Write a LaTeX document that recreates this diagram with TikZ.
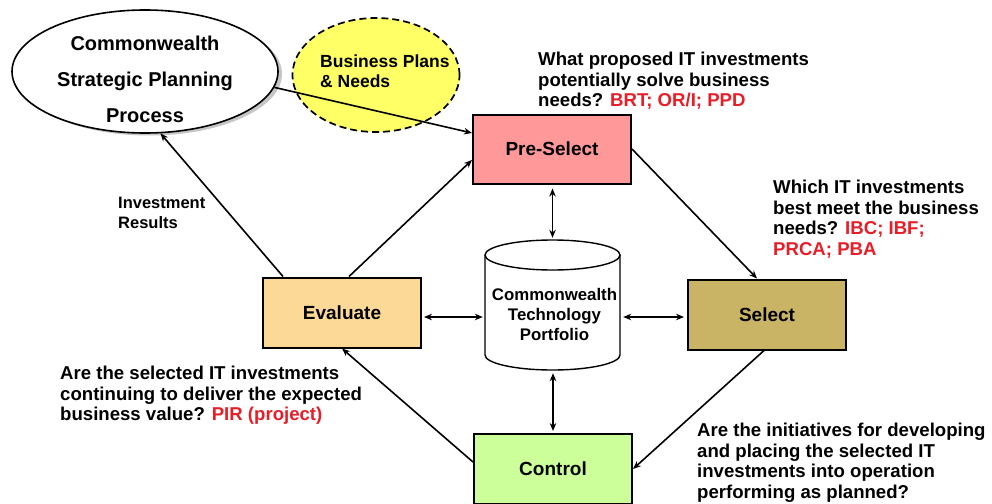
\documentclass[tikz,border=0pt]{standalone}
\usepackage{fontspec}
\setmainfont{Liberation Sans}
\usetikzlibrary{arrows.meta,shapes.geometric,calc}
\definecolor{prefill}{RGB}{255,153,153}
\definecolor{evalfill}{RGB}{252,217,150}
\definecolor{selfill}{RGB}{201,180,102}
\definecolor{ctrlfill}{RGB}{204,255,153}
\definecolor{yelfill}{RGB}{255,255,102}
\definecolor{redtxt}{RGB}{230,30,40}
\tikzset{
  box/.style={draw=black, line width=2pt, minimum width=158pt, minimum height=70pt, inner sep=0pt, font=\fontsize{19}{22}\selectfont\bfseries},
  conn/.style={line width=1.6pt, -{Stealth[length=8pt,width=6.5pt]}},
  dconn/.style={line width=1.6pt, {Stealth[length=8pt,width=6.5pt]}-{Stealth[length=8pt,width=6.5pt]}},
  qtext/.style={anchor=north west, inner sep=0pt, align=left, font=\fontsize{18.6}{20.5}\selectfont\bfseries},
}
\newcommand{\rd}[1]{\textcolor{redtxt}{#1}}
\begin{document}
\begin{tikzpicture}[x=1pt,y=-1pt]
\useasboundingbox (0,0) rectangle (992,503);
% strategic planning ellipse
\fill[gray!45] (149,74) ellipse [x radius=133pt, y radius=61.5pt];
\node[ellipse, draw, line width=1.6pt, fill=white, minimum width=266pt, minimum height=123pt, inner sep=0pt] (spp) at (145,71.5) {};
\node[align=center, inner sep=0pt, font=\fontsize{20}{36}\selectfont\bfseries] (spptxt) at (145,79) {Commonwealth\\Strategic Planning\\Process};
% business plans ellipse
\node[ellipse, draw, dash pattern=on 7pt off 4pt, line width=1.7pt, fill=yelfill, minimum width=167pt, minimum height=114pt, inner sep=0pt] (bpn) at (376,75) {};
\node[anchor=north west, inner sep=0pt, align=left, font=\fontsize{17.5}{20}\selectfont\bfseries] (bpntxt) at (320,55) {Business Plans\\\& Needs};
% boxes
\node[box, fill=prefill, minimum height=69pt] (pre) at (552,149) {Pre-Select};
\node[box, fill=selfill] (sel) at (767,314.5) {Select};
\node[box, fill=evalfill] (eva) at (342,312.5) {Evaluate};
\node[box, fill=ctrlfill] (ctl) at (553,469) {Control};
% portfolio cylinder
\node[minimum width=135pt, minimum height=130pt, inner sep=0pt] (port) at (552.5,305) {};
\draw[line width=1.4pt, fill=white] (485,255) -- (485,355) arc[start angle=180, end angle=360, x radius=67.5pt, y radius=15pt] -- (620,255);
\draw[line width=1.4pt, fill=white] (552.5,255) ellipse [x radius=67.5pt, y radius=15pt];
\node[align=center, inner sep=0pt, font=\fontsize{16.8}{20}\selectfont\bfseries] (porttxt) at (554.5,314) {Commonwealth\\Technology\\Portfolio};
% texts
\node[qtext] (q1) at (538,52) {What proposed IT investments\\potentially solve business\\needs? \rd{BRT; OR/I; PPD}};
\node[qtext] (q2) at (773,180) {Which IT investments\\best meet the business\\needs? \rd{IBC; IBF;}\\\rd{PRCA; PBA}};
\node[qtext] (q3) at (60,366) {Are the selected IT investments\\continuing to deliver the expected\\business value? \rd{PIR (project)}};
\node[qtext] (q4) at (697,423) {Are the initiatives for developing\\and placing the selected IT\\investments into operation\\performing as planned?};
\node[anchor=north west, inner sep=0pt, align=left, font=\fontsize{16.5}{20}\selectfont\bfseries] (ir) at (118,197) {Investment\\Results};
% connectors
\draw[conn] (spp.-7) -- ($(pre.west)+(0,-16)$);
\draw[conn] ($(eva.north)+(-59,0)$) -- (spp.-76);
\draw[conn] ($(eva.north)+(7,0)$) -- ($(pre.west)+(0,11)$);
\draw[conn] (pre.east) -- ($(sel.north)+(-10,0)$);
\draw[conn] ($(sel.south)+(-3,0)$) -- (ctl.east);
\draw[conn] ($(ctl.west)+(0,-7)$) -- (eva.south);
\draw[dconn] ($(eva.east)+(2,4.5)$) -- ($(eva.east -| port.west)+(-2,4.5)$);
\draw[dconn] ($(port.east |- sel.west)+(3,2.5)$) -- ($(sel.west)+(-3,2.5)$);
\draw[dconn] ($(pre.south)+(0.5,4)$) -- ($(pre.south |- port.north)+(0.5,-2)$);
\draw[dconn] ($(port.south)+(0.5,3)$) -- ($(port.south |- ctl.north)+(0.5,-2)$);
\end{tikzpicture}
\end{document}
